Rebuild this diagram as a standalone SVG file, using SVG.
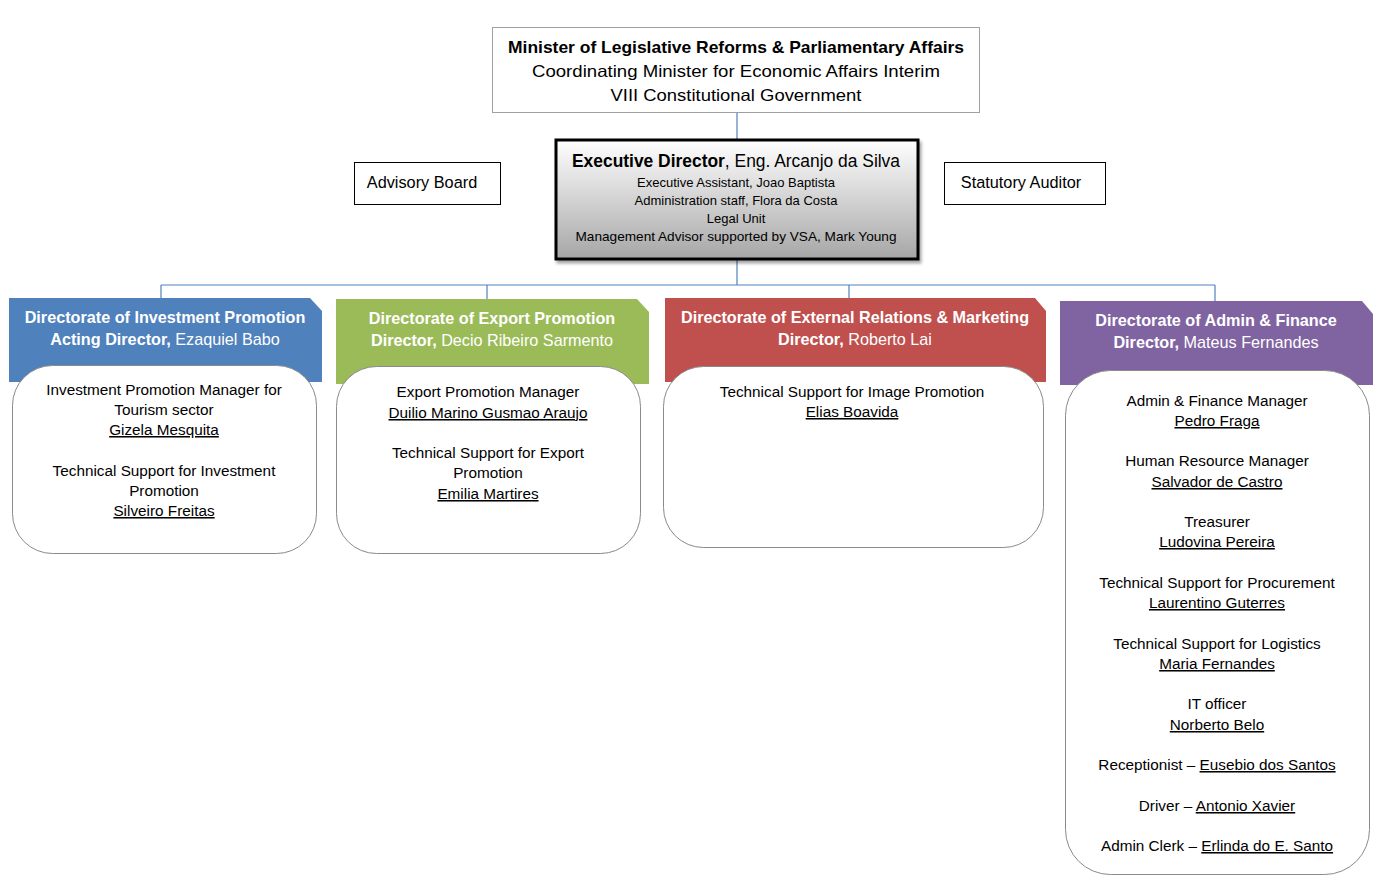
<svg xmlns="http://www.w3.org/2000/svg" width="1386" height="885" viewBox="0 0 1386 885">
<defs>
<linearGradient id="gExec" x1="0" y1="0" x2="0" y2="1">
<stop offset="0" stop-color="#ffffff"/>
<stop offset="1" stop-color="#a6a6a6"/>
</linearGradient>
<filter id="shadow" x="-10%" y="-10%" width="130%" height="130%">
<feDropShadow dx="2" dy="3" stdDeviation="1.5" flood-color="#000" flood-opacity="0.35"/>
</filter>
</defs>
<style>
text{font-family:"Liberation Sans",Arial,sans-serif;fill:#000;text-anchor:middle}
.title{font-size:16.5px}
.b{font-weight:bold}
.hdr{font-size:16.2px;fill:#fff}
.c{font-size:15.3px}
.s{font-size:13px}
.u{text-decoration:underline}
.box{fill:#fff;stroke:#000;stroke-width:1}
.inner{fill:#fff;stroke:#8a8a8a;stroke-width:1}
.conn{stroke:#4F81BD;stroke-width:1.2;fill:none}
</style>
<rect width="1386" height="885" fill="#fff"/>

<g id="connectors">
<line class="conn" x1="737" y1="113" x2="737" y2="139"/>
<line class="conn" x1="737" y1="259" x2="737" y2="285"/>
<line class="conn" x1="161" y1="285" x2="1215" y2="285"/>
<line class="conn" x1="161" y1="285" x2="161" y2="307"/>
<line class="conn" x1="487" y1="285" x2="487" y2="300"/>
<line class="conn" x1="849" y1="285" x2="849" y2="302"/>
<line class="conn" x1="1215" y1="285" x2="1215" y2="309"/>
</g>

<g id="minister">
<rect x="492.5" y="27.5" width="487" height="85" fill="#fff" stroke="#a0a0a0"/>
<text class="title b" x="736" y="53" textLength="456" lengthAdjust="spacingAndGlyphs">Minister of Legislative Reforms &amp; Parliamentary Affairs</text>
<text class="title" x="736" y="77" textLength="408" lengthAdjust="spacingAndGlyphs">Coordinating Minister for Economic Affairs Interim</text>
<text class="title" x="736" y="101" textLength="251" lengthAdjust="spacingAndGlyphs">VIII Constitutional Government</text>
</g>

<g id="executive">
<rect x="556" y="140" width="362" height="119" fill="url(#gExec)" stroke="#000" stroke-width="3" filter="url(#shadow)"/>
<text x="736" y="167" style="font-size:17.5px" textLength="328" lengthAdjust="spacingAndGlyphs"><tspan class="b">Executive Director</tspan>, Eng. Arcanjo da Silva</text>
<text class="s" x="736" y="187">Executive Assistant, Joao Baptista</text>
<text class="s" x="736" y="205">Administration staff, Flora da Costa</text>
<text class="s" x="736" y="223">Legal Unit</text>
<text class="s" x="736" y="241" textLength="321" lengthAdjust="spacingAndGlyphs">Management Advisor supported by VSA, Mark Young</text>
</g>

<g id="advisory">
<rect class="box" x="354.5" y="162.5" width="146" height="42"/>
<text x="422" y="188" style="font-size:16.3px">Advisory Board</text>
</g>

<g id="auditor">
<rect class="box" x="944.5" y="162.5" width="161" height="42"/>
<text x="1021" y="188" style="font-size:16.3px">Statutory Auditor</text>
</g>

<g id="dir-investment">
<path d="M9 298 H310 L322 311 V382 H9 Z" fill="#4F81BD"/>
<text class="hdr b" x="165" y="323">Directorate of Investment Promotion</text>
<text class="hdr" x="165" y="345"><tspan class="b">Acting Director,</tspan> Ezaquiel Babo</text>
<rect class="inner" x="12.5" y="365.5" width="304" height="188" rx="40"/>
<text class="c" x="164" y="395">Investment Promotion Manager for</text>
<text class="c" x="164" y="415">Tourism sector</text>
<text class="c u" x="164" y="435">Gizela Mesquita</text>
<text class="c" x="164" y="476">Technical Support for Investment</text>
<text class="c" x="164" y="496">Promotion</text>
<text class="c u" x="164" y="516">Silveiro Freitas</text>
</g>

<g id="dir-export">
<path d="M336 299 H637 L649 312 V384 H336 Z" fill="#9BBB59"/>
<text class="hdr b" x="492" y="324">Directorate of Export Promotion</text>
<text class="hdr" x="492" y="346"><tspan class="b">Director,</tspan> Decio Ribeiro Sarmento</text>
<rect class="inner" x="336.5" y="366.5" width="304" height="187" rx="40"/>
<text class="c" x="488" y="397">Export Promotion Manager</text>
<text class="c u" x="488" y="418">Duilio Marino Gusmao Araujo</text>
<text class="c" x="488" y="458">Technical Support for Export</text>
<text class="c" x="488" y="478">Promotion</text>
<text class="c u" x="488" y="499">Emilia Martires</text>
</g>

<g id="dir-external">
<path d="M665 298 H1035 L1046 311 V382 H665 Z" fill="#C0504D"/>
<text class="hdr b" x="855" y="323">Directorate of External Relations &amp; Marketing</text>
<text class="hdr" x="855" y="345"><tspan class="b">Director,</tspan> Roberto Lai</text>
<rect class="inner" x="663.5" y="366.5" width="380" height="181" rx="40"/>
<text class="c" x="852" y="397">Technical Support for Image Promotion</text>
<text class="c u" x="852" y="417">Elias Boavida</text>
</g>

<g id="dir-admin">
<path d="M1060 301 H1362 L1373 314 V385 H1060 Z" fill="#8064A2"/>
<text class="hdr b" x="1216" y="326">Directorate of Admin &amp; Finance</text>
<text class="hdr" x="1216" y="348"><tspan class="b">Director,</tspan> Mateus Fernandes</text>
<rect class="inner" x="1065.5" y="370.5" width="304" height="504" rx="45"/>
<text class="c" x="1217" y="406">Admin &amp; Finance Manager</text>
<text class="c u" x="1217" y="426">Pedro Fraga</text>
<text class="c" x="1217" y="466">Human Resource Manager</text>
<text class="c u" x="1217" y="487">Salvador de Castro</text>
<text class="c" x="1217" y="527">Treasurer</text>
<text class="c u" x="1217" y="547">Ludovina Pereira</text>
<text class="c" x="1217" y="588">Technical Support for Procurement</text>
<text class="c u" x="1217" y="608">Laurentino Guterres</text>
<text class="c" x="1217" y="649">Technical Support for Logistics</text>
<text class="c u" x="1217" y="669">Maria Fernandes</text>
<text class="c" x="1217" y="709">IT officer</text>
<text class="c u" x="1217" y="730">Norberto Belo</text>
<text class="c" x="1217" y="770">Receptionist – <tspan class="u">Eusebio dos Santos</tspan></text>
<text class="c" x="1217" y="811">Driver – <tspan class="u">Antonio Xavier</tspan></text>
<text class="c" x="1217" y="851">Admin Clerk – <tspan class="u">Erlinda do E. Santo</tspan></text>
</g>
</svg>
